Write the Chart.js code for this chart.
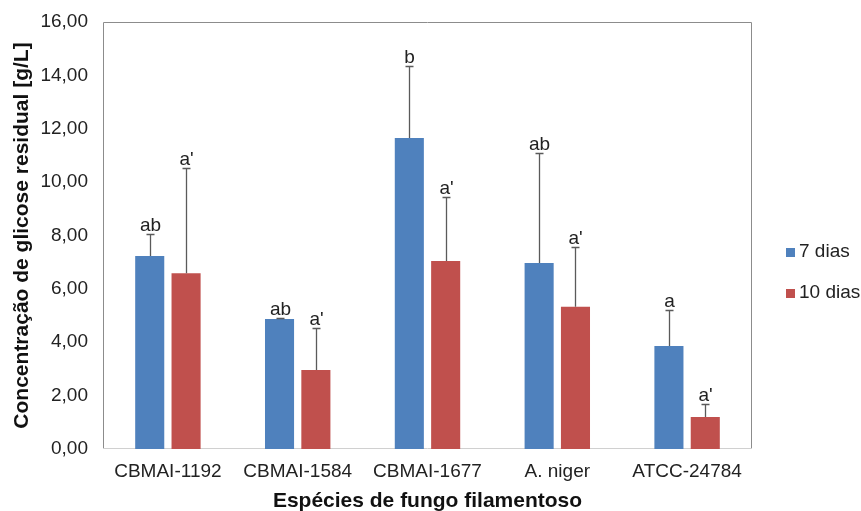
<!DOCTYPE html>
<html>
<head>
<meta charset="utf-8">
<script src="https://cdn.jsdelivr.net/npm/chart.js@4"></script>
<style>
  html, body { margin: 0; padding: 0; background: #fff; }
  #wrap { width: 861px; height: 511px; }
</style>
</head>
<body>
<div id="wrap"><canvas id="grafico"></canvas></div>
<script>
// dados
const categorias = ['CBMAI-1192', 'CBMAI-1584', 'CBMAI-1677', 'A. niger', 'ATCC-24784'];
const dias7 = [7.23, 4.87, 11.65, 6.97, 3.86];
const dias10 = [6.59, 2.96, 7.04, 5.33, 1.20];
const erro7 = [0.82, 0.05, 2.70, 4.12, 1.35];
const erro10 = [3.94, 1.57, 2.40, 2.24, 0.49];
const letras7 = ['ab', 'ab', 'b', 'ab', 'a'];
const letras10 = ["a'", "a'", "a'", "a'", "a'"];
const yTicks = [0, 2, 4, 6, 8, 10, 12, 14, 16];

const fonte = '"Liberation Sans", Arial, sans-serif';

// moldura da área do gráfico
const molduraPlugin = {
  id: 'moldura',
  beforeDatasetsDraw(chart) {
    const a = chart.chartArea, ctx = chart.ctx;
    ctx.save();
    ctx.strokeStyle = '#8c8c8c';
    ctx.lineWidth = 1;
    ctx.beginPath();
    ctx.moveTo(a.left + 0.5, a.bottom);
    ctx.lineTo(a.left + 0.5, a.top + 0.5);
    ctx.lineTo(a.right - 0.5, a.top + 0.5);
    ctx.lineTo(a.right - 0.5, a.bottom);
    ctx.stroke();
    ctx.strokeStyle = '#d0d0d0';
    ctx.beginPath();
    ctx.moveTo(a.left, a.bottom - 0.5);
    ctx.lineTo(a.right, a.bottom - 0.5);
    ctx.stroke();
    ctx.restore();
  }
};

// barras de erro (só para cima) + letras
const errosPlugin = {
  id: 'erros',
  afterDatasetsDraw(chart) {
    const ctx = chart.ctx, y = chart.scales.y;
    const erros = [erro7, erro10], letras = [letras7, letras10];
    ctx.save();
    chart.data.datasets.forEach((ds, di) => {
      const meta = chart.getDatasetMeta(di);
      meta.data.forEach((bar, i) => {
        const x = Math.round(bar.x) + 0.5;
        const yb = y.getPixelForValue(ds.data[i]);
        const yt = Math.round(y.getPixelForValue(ds.data[i] + erros[di][i])) + 0.5;
        ctx.strokeStyle = '#5a5a5a';
        ctx.lineWidth = 1.3;
        ctx.beginPath();
        ctx.moveTo(x, yb);
        ctx.lineTo(x, yt);
        ctx.moveTo(x - 4, yt);
        ctx.lineTo(x + 4, yt);
        ctx.stroke();
        ctx.fillStyle = '#222';
        ctx.font = '19px ' + fonte;
        ctx.textAlign = 'center';
        ctx.textBaseline = 'alphabetic';
        ctx.fillText(letras[di][i], x, yt - 4);
      });
    });
    ctx.restore();
  }
};

// legenda à direita
const legendaPlugin = {
  id: 'legenda',
  afterDraw(chart) {
    const ctx = chart.ctx;
    ctx.save();
    ctx.font = '19px ' + fonte;
    ctx.textBaseline = 'middle';
    ctx.textAlign = 'left';
    chart.data.datasets.forEach((ds, i) => {
      const yy = 252 + i * 41;
      ctx.fillStyle = ds.backgroundColor;
      ctx.fillRect(786, yy - 4, 9, 9);
      ctx.fillStyle = '#222';
      ctx.fillText(ds.label, 799, yy);
    });
    ctx.restore();
  }
};

new Chart(document.getElementById('grafico'), {
  type: 'bar',
  data: {
    labels: categorias,
    datasets: [
      { label: '7 dias', data: dias7, backgroundColor: '#4F81BD', borderWidth: 0 },
      { label: '10 dias', data: dias10, backgroundColor: '#C0504D', borderWidth: 0 }
    ]
  },
  options: {
    responsive: true,
    maintainAspectRatio: false,
    animation: false,
    categoryPercentage: 0.56,
    barPercentage: 0.8,
    layout: { padding: { left: 8, right: 109, top: 22, bottom: 0 } },
    plugins: {
      legend: { display: false },
      tooltip: { enabled: false }
    },
    scales: {
      x: {
        grid: { display: false, drawTicks: false },
        border: { display: false },
        ticks: { color: '#222', font: { family: fonte, size: 19 }, padding: 11 },
        title: {
          display: true, text: 'Espécies de fungo filamentoso', color: '#111',
          font: { family: fonte, size: 21, weight: 'bold' }, padding: { top: 0, bottom: -3 }
        },
        afterFit(axis) { axis.height = 62; }
      },
      y: {
        min: 0, max: 16,
        afterBuildTicks(axis) { axis.ticks = yTicks.map(v => ({ value: v })); },
        grid: { display: false, drawTicks: true, tickLength: 11 },
        border: { display: false },
        ticks: {
          color: '#222', font: { family: fonte, size: 19 }, padding: 4,
          callback: v => v.toFixed(2).replace('.', ',')
        },
        title: {
          display: true, text: 'Concentração de glicose residual [g/L]', color: '#111',
          font: { family: fonte, size: 21, weight: 'bold' }, padding: { top: 2, bottom: 0 }
        },
        afterFit(axis) { axis.width = 95; }
      }
    }
  },
  plugins: [molduraPlugin, errosPlugin, legendaPlugin]
});
</script>
</body>
</html>
